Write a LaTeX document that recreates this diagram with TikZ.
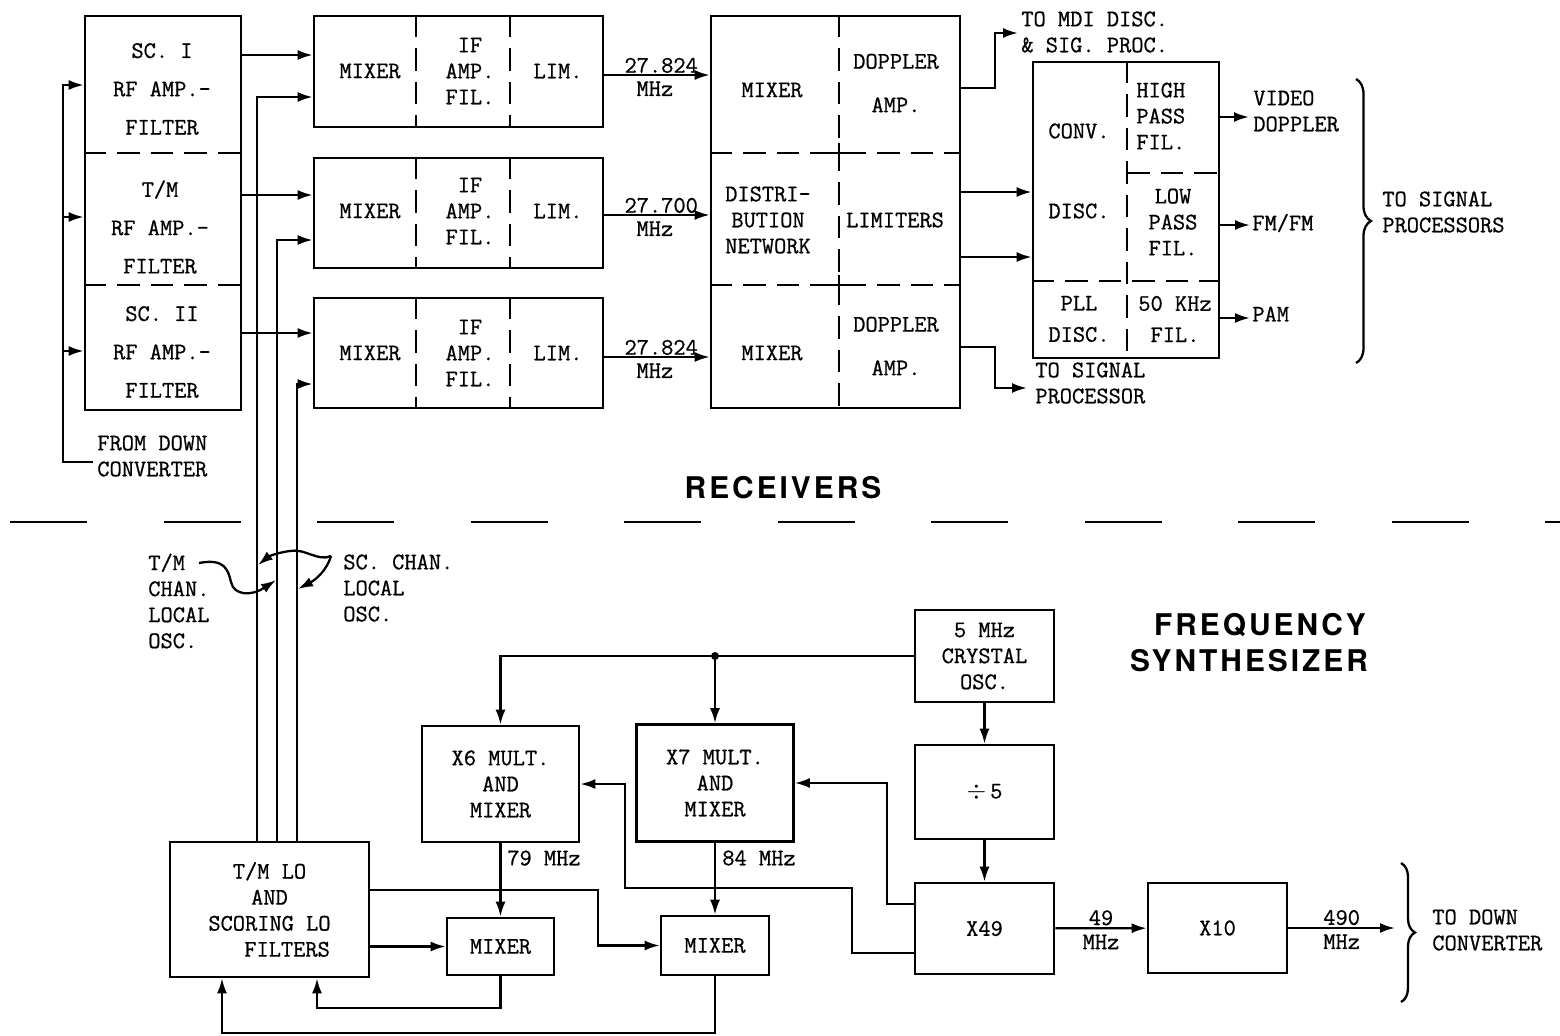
\documentclass[tikz,border=0pt]{standalone}
\usepackage{fontspec}
\newfontfamily\headfont[LetterSpace=10]{TeX Gyre Heros}
\newfontfamily\typefont[FakeBold=0.8]{Latin Modern Mono}
\usetikzlibrary{positioning,arrows.meta,decorations.pathreplacing}

\begin{document}
\begin{tikzpicture}[x=0.2mm,y=-0.2mm,font=\typefont\fontsize{13.5}{14.8}\selectfont,>={Latex[length=3mm,width=2mm]},
  blk/.style ={draw,line width=1.5pt,inner sep=0pt,align=center},
  txt/.style ={align=center,inner sep=0pt},
  lt/.style  ={align=left,anchor=west,inner sep=0pt},
  div/.style ={line width=1.3pt,dash pattern=on 0.45cm off 0.22cm},
  wire/.style={line width=1.3pt},
  flow/.style={->,line width=1.3pt},
  head/.style={font=\headfont\bfseries\fontsize{17}{21}\selectfont,inner sep=0pt}]
\useasboundingbox (0,0) rectangle (1560,1036);
% receivers
\node[blk,minimum width=3.12cm,minimum height=7.88cm] (rf) at (163,213) {};
\node[txt] (rfa) at (162,89)  {SC. I\\[7pt]RF AMP.-\\[7pt]FILTER};
\node[txt] (rfb) at (160,227) {T/M\\[7pt]RF AMP.-\\[7pt]FILTER};
\node[txt] (rfc) at (162,352) {SC. II\\[7pt]RF AMP.-\\[7pt]FILTER};
\draw[div] (rf.west |- 0,153) -- (rf.east |- 0,153);
\draw[div] (rf.west |- 0,285) -- (rf.east |- 0,285);
\node[lt] (fdc) at (97,456) {FROM DOWN\\CONVERTER};
\coordinate (dcin) at (93,462);
\draw[flow] (dcin) -| (63,85) -- (rf.west |- 0,85);
\draw[flow] (63,217) -- (rf.west |- 0,217);
\draw[flow] (63,351) -- (rf.west |- 0,351);

\node[blk,minimum width=5.78cm,minimum height=2.22cm] (mx1) at (458.5,71.5) {};
\node[blk,minimum width=5.78cm,minimum height=2.2cm]  (mx2) at (458.5,213) {};
\node[blk,minimum width=5.78cm,minimum height=2.2cm]  (mx3) at (458.5,353) {};
\draw[div] (mx1.north -| 416,0) -- (mx1.south -| 416,0);
\draw[div] (mx1.north -| 510,0) -- (mx1.south -| 510,0);
\draw[div] (mx2.north -| 416,0) -- (mx2.south -| 416,0);
\draw[div] (mx2.north -| 510,0) -- (mx2.south -| 510,0);
\draw[div] (mx3.north -| 416,0) -- (mx3.south -| 416,0);
\draw[div] (mx3.north -| 510,0) -- (mx3.south -| 510,0);
\node[txt] (mxa1) at (370,71)  {MIXER};
\node[txt] (ifa1) at (470,71)  {IF\\AMP.\\FIL.};
\node[txt] (lim1) at (558,71)  {LIM.};
\node[txt] (mxa2) at (370,211) {MIXER};
\node[txt] (ifa2) at (470,211) {IF\\AMP.\\FIL.};
\node[txt] (lim2) at (558,211) {LIM.};
\node[txt] (mxa3) at (370,353) {MIXER};
\node[txt] (ifa3) at (470,353) {IF\\AMP.\\FIL.};
\node[txt] (lim3) at (558,353) {LIM.};
\draw[flow] (rf.east |- 0,55)  -- (mx1.west |- 0,55);
\draw[flow] (rf.east |- 0,195) -- (mx2.west |- 0,195);
\draw[flow] (rf.east |- 0,333) -- (mx3.west |- 0,333);

\node[blk,minimum width=4.98cm,minimum height=7.84cm] (cb) at (835.5,212) {};
\draw[div] (cb.west |- 0,153) -- (cb.east |- 0,153);
\draw[div] (cb.west |- 0,285) -- (cb.east |- 0,285);
\draw[div] (cb.north -| 839,0) -- (cb.south -| 839,0);
\draw[wire] (839,143) -- (839,163) (829,153) -- (849,153);
\draw[wire] (839,275) -- (839,295) (829,285) -- (849,285);
\node[txt] (cmx1) at (772,90)  {MIXER};
\node[txt] (dop1) at (896,83)  {DOPPLER\\[10pt]AMP.};
\node[txt] (dist) at (768,220) {DISTRI-\\BUTION\\NETWORK};
\node[txt] (lims) at (895,220) {LIMITERS};
\node[txt] (cmx2) at (772,353) {MIXER};
\node[txt] (dop2) at (896,346) {DOPPLER\\[10pt]AMP.};
\draw[flow] (mx1.east |- 0,75)  -- (cb.west |- 0,75)
  node[pos=0.54,above=0.5pt,inner sep=0pt] {27.824} node[pos=0.48,below=3pt,inner sep=0pt] {MHz};
\draw[flow] (mx2.east |- 0,215) -- (cb.west |- 0,215)
  node[pos=0.54,above=0.5pt,inner sep=0pt] {27.700} node[pos=0.48,below=3pt,inner sep=0pt] {MHz};
\draw[flow] (mx3.east |- 0,357) -- (cb.west |- 0,357)
  node[pos=0.54,above=0.5pt,inner sep=0pt] {27.824} node[pos=0.48,below=3pt,inner sep=0pt] {MHz};

\node[blk,minimum width=3.72cm,minimum height=5.92cm] (rb) at (1126,210) {};
\draw[div] (rb.north -| 1127,0) -- (rb.south -| 1127,0);
\draw[div] (1127,173) -- (rb.east |- 0,173);
\draw[div] (rb.west |- 0,281) -- (rb.east |- 0,281);
\node[txt] (conv) at (1079,131) {CONV.};
\node[lt]  (hpf)  at (1136,116) {HIGH\\PASS\\FIL.};
\node[txt] (disc) at (1079,211) {DISC.};
\node[txt] (lpf)  at (1173,222) {LOW\\PASS\\FIL.};
\node[txt] (pll)  at (1079,319) {PLL\\[3pt]DISC.};
\node[txt] (khz)  at (1175,319) {50 KHz\\[3pt]FIL.};
\draw[flow] (cb.east |- 0,192) -- (rb.west |- 0,192);
\draw[flow] (cb.east |- 0,257) -- (rb.west |- 0,257);
\coordinate (mdi) at (1018,33);
\coordinate (sp)  at (1027,388);
\draw[flow] (cb.east |- 0,88)  -- (995,88)  |- (mdi);
\draw[flow] (cb.east |- 0,347) -- (995,347) |- (sp);
\node[lt] (mdit) at (1021,32)  {TO MDI DISC.\\\& SIG. PROC.};
\node[lt] (spt)  at (1035,383) {TO SIGNAL\\PROCESSOR};
\draw[flow] (rb.east |- 0,117) -- (1249,117);
\draw[flow] (rb.east |- 0,225) -- (1250,225);
\draw[flow] (rb.east |- 0,318) -- (1250,318);
\node[lt] (vdt) at (1253,111) {VIDEO\\DOPPLER};
\node[lt] (fmt) at (1252,223) {FM/FM};
\node[lt] (pam) at (1252,314) {PAM};
\draw[wire,decorate,decoration={brace,amplitude=0.3cm}] (1356,79) -- (1356,363);
\node[lt] (tsp) at (1382,212) {TO SIGNAL\\PROCESSORS};

\node[head] (rcv) at (783,488) {RECEIVERS};
\draw[line width=1.5pt,dash pattern=on 1.54cm off 1.53cm] (10,522) -- (1560,522);

% frequency synthesizer
\node[head] (freq)  at (1260,625) {FREQUENCY};
\node[head] (synth) at (1249,661) {SYNTHESIZER};
\node[blk,minimum width=3.98cm,minimum height=2.7cm] (lo) at (269.5,909.5) {T/M LO\\AND\\SCORING LO\\\hspace*{20pt}FILTERS};
\node[blk,minimum width=3.14cm,minimum height=2.32cm] (x6) at (500.5,784) {X6 MULT.\\AND\\MIXER};
\node[blk,minimum width=3.14cm,minimum height=2.34cm] (x7) at (715,783) {X7 MULT.\\AND\\MIXER};
\node[blk,minimum width=2.14cm,minimum height=1.14cm] (m1) at (500.5,946.5) {MIXER};
\node[blk,minimum width=2.16cm,minimum height=1.18cm] (m2) at (715,945.5) {MIXER};
\node[blk,minimum width=2.78cm,minimum height=1.84cm] (xtal) at (984.5,656) {5 MHz\\CRYSTAL\\OSC.};
\node[blk,minimum width=2.78cm,minimum height=1.88cm] (div5) at (984.5,792) {$\div$\,5};
\node[blk,minimum width=2.78cm,minimum height=1.82cm] (x49) at (984.5,928.5) {X49};
\node[blk,minimum width=2.78cm,minimum height=1.8cm]  (x10) at (1217.5,928) {X10};

\draw[flow] (lo.north -| 257,0) |- (mx1.west |- 0,97);
\draw[flow] (lo.north -| 277,0) |- (mx2.west |- 0,240);
\draw[flow] (lo.north -| 297,0) |- (mx3.west |- 0,384);
\node[lt] (tmosc) at (148,601) {T/M\\CHAN.\\LOCAL\\OSC.};
\node[lt] (scosc) at (343,588) {SC. CHAN.\\LOCAL\\OSC.};
\coordinate (tmS) at (199,563);
\coordinate (scS) at (331,556);
\draw[flow] (tmS) .. controls (225,558) and (228,570) .. (231,582) .. controls (234,596) and (252,596) .. (276,580);
\draw[flow] (scS) .. controls (326,572) and (315,580) .. (298,589);
\draw[flow] (scS) .. controls (318,562) and (305,548) .. (290,551) .. controls (275,553) and (268,557) .. (258,565);

\draw[flow] (xtal.west) -| (x6.north);
\draw[flow] (x7.north |- xtal.west) -- (x7.north);
\fill (x7.north |- xtal.west) circle (0.08cm);
\draw[flow] (xtal) -- (div5);
\draw[flow] (div5) -- (x49);
\draw[flow] (x49) -- (x10) node[midway,above=1pt,inner sep=0pt] {49} node[midway,below=3pt,inner sep=0pt] {MHz};
\coordinate (dcout) at (1395,928);
\draw[flow] (x10) -- (dcout) node[midway,above=1pt,inner sep=0pt] {490} node[midway,below=3pt,inner sep=0pt] {MHz};
\draw[wire,decorate,decoration={brace,amplitude=0.28cm}] (1401,863) -- (1401,1002);
\node[lt] (tdc) at (1432,930) {TO DOWN\\CONVERTER};
\draw[flow] (x49.west |- 0,904) -| (887,783) -- (x7.east);
\draw[flow] (x49.west |- 0,953) -| (852,888) -| (625,784) -- (x6.east);

\draw[flow] (x6) -- (m1);
\draw[flow] (x7) -- (m2);
\node[lt] (f79) at (507,858) {79 MHz};
\node[lt] (f84) at (722,858) {84 MHz};
\draw[flow] (lo.east |- m1) -- (m1.west);
\draw[flow] (lo.east |- 0,890) -| (m2.west -| 598,0) -- (m2.west);
\draw[flow] (m1.south) |- (317,1008) -- (lo.south -| 317,0);
\draw[flow] (m2.south) |- (222,1033) -- (lo.south -| 222,0);
\end{tikzpicture}
\end{document}
